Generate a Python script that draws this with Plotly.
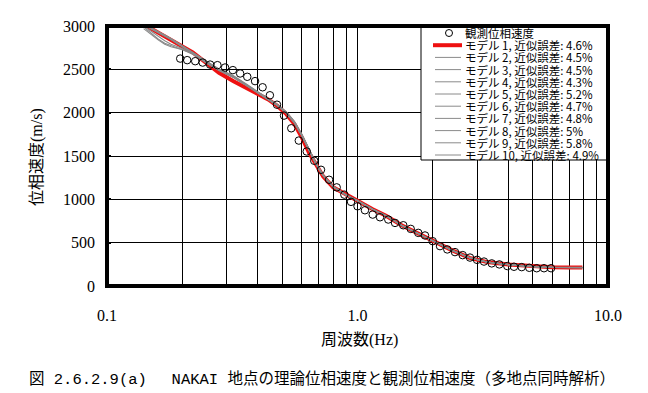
import plotly.graph_objects as go

# ---------------- data ----------------
F_OBS = [0.196, 0.209, 0.225, 0.241, 0.258, 0.276, 0.296, 0.318, 0.340, 0.363,
         0.390, 0.418, 0.447, 0.477, 0.509, 0.544, 0.583, 0.627, 0.672, 0.715,
         0.770, 0.826, 0.886, 0.942, 1.000, 1.071, 1.150, 1.230, 1.327, 1.412,
         1.523, 1.631, 1.748, 1.860, 1.996, 2.135, 2.283, 2.450, 2.630, 2.812,
         3.000, 3.199, 3.434, 3.683, 3.963, 4.215, 4.524, 4.851, 5.193, 5.553, 5.923]
V_OBS = [2624, 2606, 2594, 2578, 2555, 2548, 2521, 2491, 2452, 2414,
         2364, 2293, 2201, 2092, 1966, 1820, 1678, 1552, 1445, 1341,
         1226, 1138, 1054, 971, 920, 874, 824, 793, 767, 728,
         701, 659, 613, 583, 517, 460, 422, 391, 356, 328,
         302, 282, 261, 249, 230, 222, 218, 210, 205, 205, 205]

F_MODEL = [0.14, 0.15, 0.16, 0.17, 0.18, 0.19, 0.20, 0.22, 0.25, 0.28, 0.32, 0.36,
           0.40, 0.44, 0.48, 0.52, 0.56, 0.60, 0.64, 0.68, 0.73, 0.80, 0.90, 1.0,
           1.15, 1.3, 1.5, 1.75, 2.0, 2.4, 2.8, 3.3, 4.0, 5.0, 6.0, 7.0, 7.9]

V_M1 = [3020, 2972, 2931, 2885, 2845, 2805, 2764, 2695, 2563, 2460, 2362, 2287,
        2224, 2152, 2075, 1983, 1868, 1713, 1540, 1402, 1264, 1138, 1051, 983,
        885, 810, 701, 603, 523, 408, 325, 276, 248, 226, 217, 214, 214]
V_M2 = [2990, 2920, 2850, 2800, 2770, 2750, 2730, 2680, 2575, 2490, 2410, 2318,
        2232, 2158, 2082, 1995, 1885, 1735, 1565, 1418, 1272, 1143, 1049, 984,
        886, 811, 701, 604, 523, 409, 327, 276, 248, 226, 217, 214, 214]
V_M3 = [3000, 2940, 2880, 2830, 2790, 2765, 2740, 2685, 2585, 2500, 2420, 2325,
        2240, 2165, 2090, 2005, 1895, 1745, 1575, 1425, 1278, 1147, 1052, 986,
        884, 809, 699, 602, 521, 407, 325, 274, 246, 224, 215, 212, 212]
V_M4 = [2970, 2900, 2840, 2790, 2760, 2745, 2725, 2675, 2570, 2488, 2405, 2315,
        2228, 2155, 2080, 1992, 1880, 1730, 1560, 1415, 1270, 1142, 1048, 983,
        885, 810, 700, 603, 522, 408, 326, 275, 247, 225, 216, 213, 213]
V_M5 = [3020, 2978, 2938, 2893, 2852, 2808, 2768, 2695, 2590, 2505, 2425, 2330,
        2245, 2168, 2092, 2008, 1900, 1750, 1580, 1430, 1282, 1150, 1054, 987,
        887, 812, 702, 605, 524, 410, 328, 277, 249, 227, 218, 215, 215]
V_M6 = [3015, 2970, 2930, 2886, 2846, 2802, 2762, 2688, 2578, 2492, 2412, 2318,
        2232, 2157, 2083, 1998, 1888, 1738, 1568, 1418, 1273, 1144, 1049, 984,
        884, 809, 699, 602, 521, 407, 325, 274, 246, 224, 215, 212, 212]
V_M7 = [3025, 2982, 2942, 2897, 2856, 2812, 2770, 2698, 2585, 2500, 2418, 2324,
        2238, 2162, 2088, 2002, 1892, 1742, 1572, 1422, 1277, 1146, 1051, 985,
        885, 810, 700, 603, 522, 408, 326, 275, 247, 225, 216, 213, 213]
V_M8 = [3018, 2974, 2934, 2889, 2849, 2804, 2764, 2690, 2575, 2490, 2410, 2316,
        2230, 2156, 2082, 1997, 1887, 1737, 1567, 1417, 1272, 1143, 1050, 984,
        886, 811, 701, 604, 523, 409, 327, 276, 248, 226, 217, 214, 214]
V_M9 = [3022, 2976, 2936, 2891, 2851, 2806, 2766, 2692, 2582, 2498, 2416, 2322,
        2236, 2160, 2086, 2000, 1890, 1740, 1570, 1420, 1275, 1145, 1050, 985,
        885, 810, 700, 603, 522, 408, 326, 275, 247, 225, 216, 213, 213]
V_M10 = [3012, 2968, 2928, 2884, 2844, 2800, 2760, 2686, 2572, 2486, 2406, 2312,
         2226, 2152, 2078, 1994, 1884, 1734, 1564, 1414, 1270, 1141, 1048, 983,
         884, 809, 699, 602, 521, 407, 325, 274, 246, 224, 215, 212, 212]

MODEL_ERR = ["4.6%", "4.5%", "4.5%", "4.3%", "5.2%", "4.7%", "4.8%", "5%", "5.8%", "4.9%"]
OBS_NAME = "観測位相速度"

X_TICKVALS = [0.1, 0.2, 0.3, 0.4, 0.5, 0.6, 0.7, 0.8, 0.9, 1.0,
              2, 3, 4, 5, 6, 7, 8, 9, 10]
X_TICKTEXT = ["0.1", "", "", "", "", "", "", "", "", "1.0",
              "", "", "", "", "", "", "", "", "10.0"]
Y_TICKVALS = [0, 500, 1000, 1500, 2000, 2500, 3000]

X_TITLE = "周波数(Hz)"
Y_TITLE = "位相速度(m/s)"
CAPTION = "図 2.6.2.9(a)\u3000 NAKAI 地点の理論位相速度と観測位相速度（多地点同時解析）"

MODELS = [V_M1, V_M2, V_M3, V_M4, V_M5, V_M6, V_M7, V_M8, V_M9, V_M10]
MODEL_NAMES = [f"モデル {i + 1}, 近似誤差: {e}" for i, e in enumerate(MODEL_ERR)]

# ---------------- figure ----------------
W, H = 648, 393
L, R, T, B = 107, 40, 26, 107
PW, PH = W - L - R, H - T - B

def px(xp):
    return (xp - L) / PW

def py(yp):
    return (H - B - yp) / PH

RED = "#ee1111"
GREY = "#8a8a8a"
SERIF = "Liberation Serif, Times New Roman, Noto Sans CJK JP, serif"
MONO = "Liberation Mono, Noto Sans CJK JP, monospace"

fig = go.Figure()

# red model 1 first, grey models on top, observed last
fig.add_trace(go.Scatter(x=F_MODEL, y=MODELS[0], mode="lines", name=MODEL_NAMES[0],
                         line=dict(color=RED, width=4), showlegend=False))
for i in range(1, 10):
    fig.add_trace(go.Scatter(x=F_MODEL, y=MODELS[i], mode="lines", name=MODEL_NAMES[i],
                             line=dict(color=GREY, width=1.1), showlegend=False))
fig.add_trace(go.Scatter(x=F_OBS, y=V_OBS, mode="markers", name=OBS_NAME,
                         marker=dict(symbol="circle-open", size=7.5,
                                     line=dict(color="black", width=1), color="black"),
                         showlegend=False))

shapes = []
annotations = []

# legend box
lg_left, lg_bottom = 421, 160
shapes.append(dict(type="rect", xref="paper", yref="paper", layer="above",
                   x0=px(lg_left), x1=1, y0=py(lg_bottom), y1=1,
                   line=dict(color="black", width=1), fillcolor="white"))
row0, dy = 33, 12.2
text_x = 463
legend_font = dict(family="Noto Sans CJK JP", size=11.5, color="black")
# observed row
shapes.append(dict(type="circle", xref="paper", yref="paper", layer="above",
                   x0=px(449 - 3.5), x1=px(449 + 3.5), y0=py(row0 + 3.5), y1=py(row0 - 3.5),
                   line=dict(color="black", width=1)))
annotations.append(dict(text=OBS_NAME, xref="paper", yref="paper", x=px(text_x), y=py(row0),
                        xanchor="left", yanchor="middle", showarrow=False, font=legend_font))
for i, name in enumerate(MODEL_NAMES):
    yy = row0 + dy * (i + 1)
    if i == 0:
        shapes.append(dict(type="line", xref="paper", yref="paper", layer="above",
                           x0=px(433), x1=px(462), y0=py(yy), y1=py(yy),
                           line=dict(color=RED, width=4)))
    else:
        shapes.append(dict(type="line", xref="paper", yref="paper", layer="above",
                           x0=px(435), x1=px(461), y0=py(yy), y1=py(yy),
                           line=dict(color=GREY, width=1)))
    annotations.append(dict(text=name, xref="paper", yref="paper", x=px(text_x), y=py(yy),
                            xanchor="left", yanchor="middle", showarrow=False, font=legend_font))

# thick frame
shapes.append(dict(type="rect", xref="paper", yref="paper", layer="above",
                   x0=0, x1=1, y0=0, y1=1, line=dict(color="black", width=4)))

# titles and caption
annotations.append(dict(text=X_TITLE, xref="paper", yref="paper", x=px(359), y=py(340),
                        xanchor="center", yanchor="middle", showarrow=False,
                        font=dict(family=SERIF, size=16, color="black")))
annotations.append(dict(text=Y_TITLE, xref="paper", yref="paper", x=px(37), y=py(157),
                        xanchor="center", yanchor="middle", showarrow=False, textangle=-90,
                        font=dict(family=SERIF, size=16, color="black")))
annotations.append(dict(text=CAPTION, xref="paper", yref="paper", x=px(27), y=py(379),
                        xanchor="left", yanchor="middle", showarrow=False,
                        font=dict(family=MONO, size=15.5, color="black")))

fig.update_layout(
    width=W, height=H,
    margin=dict(l=L, r=R, t=T, b=B, pad=0),
    paper_bgcolor="white", plot_bgcolor="white",
    showlegend=False,
    shapes=shapes, annotations=annotations,
    xaxis=dict(type="log", range=[-1, 1], tickvals=X_TICKVALS, ticktext=X_TICKTEXT,
               showgrid=True, gridcolor="black", gridwidth=1,
               ticks="inside", ticklen=4, tickcolor="black", tickwidth=1,
               showline=False, zeroline=False, ticklabelstandoff=18,
               tickfont=dict(family=SERIF, size=16, color="black")),
    yaxis=dict(range=[0, 3000], tickvals=Y_TICKVALS,
               showgrid=True, gridcolor="black", gridwidth=1,
               ticks="inside", ticklen=4, tickcolor="black", tickwidth=2,
               showline=False, zeroline=False, ticklabelstandoff=11,
               tickfont=dict(family=SERIF, size=16, color="black")),
)

fig.write_html("out.html", config={"displayModeBar": False},
               post_script="document.body.style.margin='0';document.body.style.overflow='hidden';")
